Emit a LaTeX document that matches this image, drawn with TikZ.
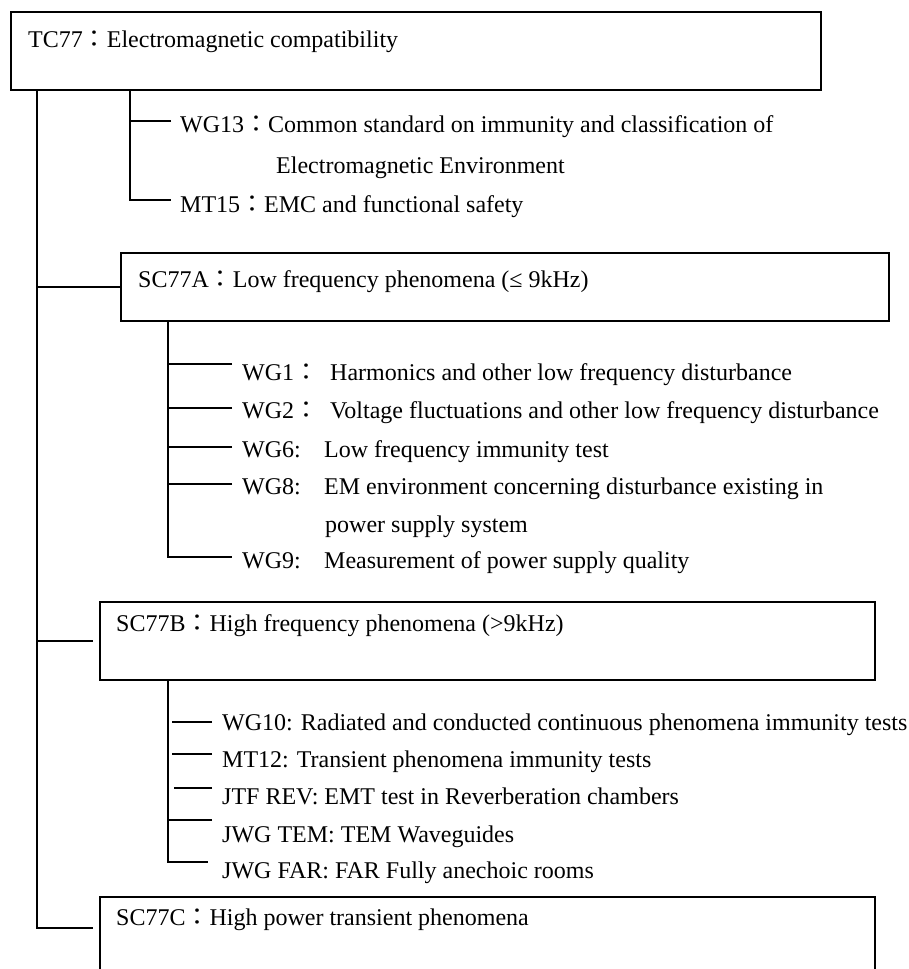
\documentclass[tikz,border=0pt]{standalone}
\usepackage{fontspec}
\setmainfont{Liberation Serif}
\newfontfamily\cjk{Noto Sans CJK TC}
\usepackage{tikz}
\usetikzlibrary{calc}

\newcommand{\fc}{{\cjk ：}}

\begin{document}
\begin{tikzpicture}[x=1pt, y=-1pt,
    grp/.style={draw, line width=2.2pt, anchor=north west, inner sep=0pt, minimum height=78pt},
    txt/.style={anchor=base west, inner sep=0pt, text height=22pt, text depth=2pt, font=\fontsize{24}{28}\selectfont},
    line/.style={line width=2pt}]
    \useasboundingbox (0,0) rectangle (908,969);
    \clip (0,0) rectangle (908,969);
    % Caixas
    \node[grp, minimum width=810pt] (tc) at (10,11) {};
    \node[grp, minimum width=768pt, minimum height=68pt] (sa) at (120,252) {};
    \node[grp, minimum width=775pt] (sb) at (99,601) {};
    \node[grp, minimum width=775pt] (sc) at (99,896) {};
    \node[txt] (tcl) at (28,47) {TC77\fc Electromagnetic compatibility};
    \node[txt] (sal) at (138,287) {SC77A\fc Low frequency phenomena (≤ 9kHz)};
    \node[txt] (sbl) at (116,631) {SC77B\fc High frequency phenomena (>9kHz)};
    \node[txt] (scl) at (116,925) {SC77C\fc High power transient phenomena};
    % TC77
    \node[txt] (wg13) at (180,132) {WG13\fc Common standard on immunity and classification of};
    \node[txt] (wg13b) at (276,173) {Electromagnetic Environment};
    \node[txt] (mt15) at (180,212) {MT15\fc EMC and functional safety};
    % SC77A
    \node[txt] (wg1) at (242,380) {\makebox[88pt][l]{WG1\fc}Harmonics and other low frequency disturbance};
    \node[txt] (wg2) at (242,418) {\makebox[88pt][l]{WG2\fc}Voltage fluctuations and other low frequency disturbance};
    \node[txt] (wg6) at (242,457) {\makebox[82pt][l]{WG6:}Low frequency immunity test};
    \node[txt] (wg8) at (242,494) {\makebox[82pt][l]{WG8:}EM environment concerning disturbance existing in};
    \node[txt] (wg8b) at (325,532) {power supply system};
    \node[txt] (wg9) at (242,568) {\makebox[82pt][l]{WG9:}Measurement of power supply quality};
    % SC77B
    \node[txt] (wg10) at (222,730) {WG10: Radiated and conducted continuous phenomena immunity tests};
    \node[txt] (mt12) at (222,767) {MT12: Transient phenomena immunity tests};
    \node[txt] (jtf) at (222,804) {JTF REV: EMT test in Reverberation chambers};
    \node[txt] (tem) at (222,842) {JWG TEM: TEM Waveguides};
    \node[txt] (far) at (222,878) {JWG FAR: FAR Fully anechoic rooms};
    % Linhas
    \coordinate (t0) at ([xshift=27pt]tc.south west);
    \coordinate (tt) at ([xshift=120pt]tc.south west);
    \coordinate (ta) at ([xshift=48pt]sa.south west);
    \coordinate (tb) at ([xshift=69pt]sb.south west);
    \draw[line] (t0) |- ([xshift=-6pt,yshift=8pt]sc.west);
    \draw[line] (t0 |- sa.west) -- (sa.west);
    \draw[line] (t0 |- sb.west) -- ([xshift=-6pt]sb.west);
    \draw[line] (tt) |- ([xshift=-9pt,yshift=2pt]mt15.west);
    \draw[line] ([xshift=-9pt,yshift=1pt]wg13.west) -- ++(-41,0);
    \draw[line] (ta) |- ([xshift=-10pt,yshift=1pt]wg9.west);
    \foreach \n/\dy in {wg1/6, wg2/0, wg6/0, wg8/0}
        \draw[line] ([xshift=-10pt,yshift=\dy pt]\n.west) -- ++(-64,0);
    \draw[line] (tb) |- ([xshift=-14pt,yshift=6pt]far.west);
    \foreach \n/\dy/\len in {wg10/-2/40, mt12/3/40, jtf/6/38, tem/12/44}
        \draw[line] ([xshift=-10pt,yshift=\dy pt]\n.west) -- ++(-\len,0);
\end{tikzpicture}
\end{document}
